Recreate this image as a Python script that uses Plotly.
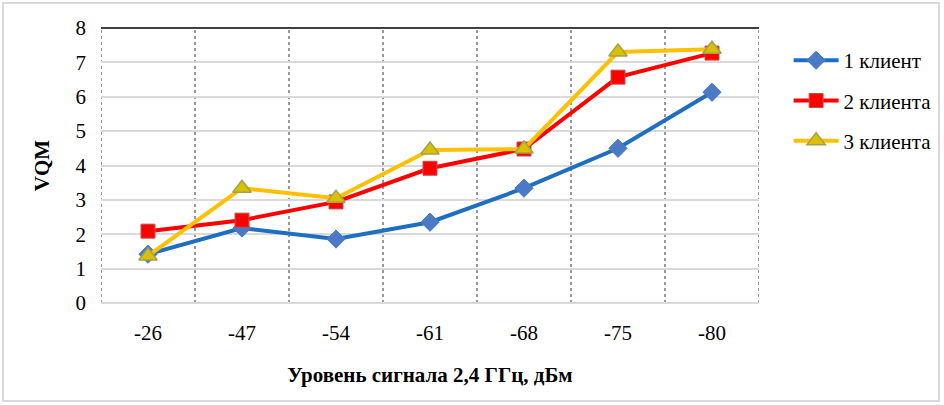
import plotly.graph_objects as go

# data
categories = ["-26", "-47", "-54", "-61", "-68", "-75", "-80"]
one_client = [1.42, 2.18, 1.86, 2.35, 3.34, 4.50, 6.13]
two_clients = [2.09, 2.41, 2.94, 3.92, 4.48, 6.57, 7.27]
three_clients = [1.37, 3.34, 3.05, 4.45, 4.48, 7.30, 7.38]

W, H = 944, 405
L, R, T, B = 101, 185, 28, 102
pw = W - L - R
ph = H - T - B

font = "Liberation Serif, Times New Roman, serif"
fs = 21

fig = go.Figure()
fig.add_trace(go.Scatter(
    x=categories, y=one_client, name="1 клиент", mode="lines+markers",
    legendgroup="a",
    line=dict(color="#1F6FC0", width=4),
    marker=dict(symbol="diamond", size=14, color="#4A79C6",
                line=dict(color="#4A79C6", width=1)),
))
fig.add_trace(go.Scatter(
    x=categories, y=two_clients, name="2 клиента", mode="lines+markers",
    legendgroup="b",
    line=dict(color="#FF0000", width=4),
    marker=dict(symbol="square", size=14, color="#FF0000",
                line=dict(color="#C0504D", width=1)),
))
fig.add_trace(go.Scatter(
    x=categories, y=three_clients, name="3 клиента", mode="lines+markers",
    legendgroup="c",
    line=dict(color="#FFC000", width=4),
    marker=dict(symbol="triangle-up", size=16, color="#D9C000",
                line=dict(color="#A5A04A", width=1.5)),
))

shapes = []
# dotted vertical separators between categories and at plot sides
for i in range(len(categories) + 1):
    shapes.append(dict(type="line", xref="x", yref="paper",
                       x0=i - 0.5, x1=i - 0.5, y0=0, y1=1,
                       line=dict(color="#333333", width=1, dash="dot"),
                       layer="below"))
# solid top border
shapes.append(dict(type="line", xref="paper", yref="paper",
                   x0=0, x1=1, y0=1, y1=1,
                   line=dict(color="black", width=1.5)))
# outer frame of the image
shapes.append(dict(type="rect", xref="paper", yref="paper",
                   x0=(3 - L) / pw, x1=(939 - L) / pw,
                   y0=(H - 401 - B) / ph, y1=(H - 3 - B) / ph,
                   line=dict(color="#D9D9D9", width=2)))

fig.update_layout(
    width=W, height=H,
    margin=dict(l=L, r=R, t=T, b=B, autoexpand=False),
    paper_bgcolor="white", plot_bgcolor="white",
    font=dict(family=font, size=fs, color="black"),
    showlegend=True,
    legend=dict(xref="container", yref="container",
                x=0.8354, y=0.901, xanchor="left", yanchor="top",
                font=dict(family=font, size=fs, color="black"),
                tracegroupgap=10, itemwidth=45,
                bgcolor="rgba(0,0,0,0)"),
    shapes=shapes,
)
fig.update_xaxes(
    type="category", range=[-0.5, 6.5],
    showgrid=False, zeroline=False, showline=False,
    ticks="", ticklabelstandoff=15,
    tickfont=dict(family=font, size=fs, color="black"),
    title=dict(text="<b>Уровень сигнала 2,4 ГГц, дБм</b>",
               font=dict(family=font, size=fs), standoff=23),
)
fig.update_yaxes(
    range=[0, 8], dtick=1,
    showgrid=True, gridcolor="#D9D9D9", gridwidth=2,
    zeroline=True, zerolinecolor="#D9D9D9", zerolinewidth=2,
    showline=False, ticks="", ticklabelstandoff=14,
    tickfont=dict(family=font, size=fs, color="black"),
    title=dict(text="<b>VQM</b>", font=dict(family=font, size=fs), standoff=20),
)

fig.write_html("out.html", config={"displayModeBar": False},
               post_script="document.body.style.margin='0';")
